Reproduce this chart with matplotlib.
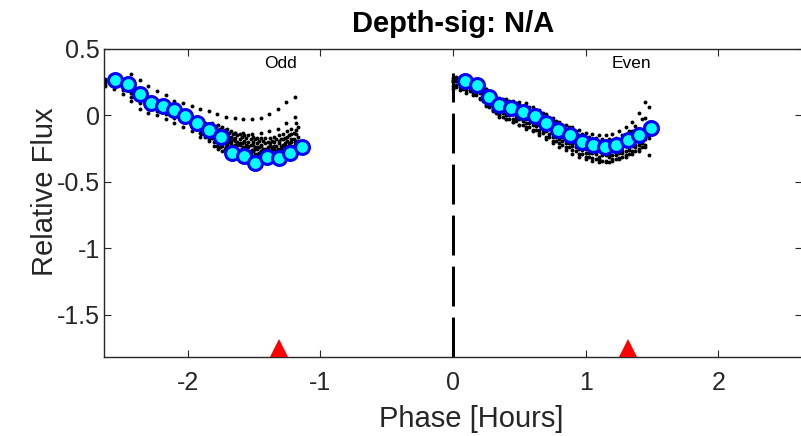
import numpy as np
import matplotlib
matplotlib.use("Agg")
import matplotlib.pyplot as plt

plt.rcParams['font.family'] = ['Liberation Sans', 'DejaVu Sans']
plt.rcParams['axes.unicode_minus'] = False

nan = np.nan

# binned flux (blue/cyan circles)
odd_bin_phase = [-2.546, -2.451, -2.362, -2.274, -2.187, -2.099, -2.016, -1.928, -1.840,
                 -1.752, -1.664, -1.576, -1.491, -1.400, -1.313, -1.225, -1.137]
odd_bin_flux = [0.263, 0.233, 0.163, 0.095, 0.070, 0.038, -0.008, -0.058, -0.108,
                -0.163, -0.283, -0.308, -0.358, -0.313, -0.318, -0.283, -0.238]
even_bin_phase = [0.087, 0.179, 0.268, 0.350, 0.439, 0.526, 0.619, 0.702, 0.790,
                  0.878, 0.971, 1.054, 1.142, 1.230, 1.317, 1.405, 1.489]
even_bin_flux = [0.258, 0.226, 0.138, 0.075, 0.055, 0.025, -0.008, -0.058, -0.108,
                 -0.150, -0.200, -0.220, -0.238, -0.226, -0.183, -0.150, -0.095]

# unbinned odd transits, full phase range
odd_phase_a = [-2.62, -2.555, -2.49, -2.425, -2.36, -2.295, -2.23, -2.165, -2.10, -2.035, -1.97,
               -1.905, -1.84, -1.775, -1.71, -1.645, -1.58, -1.515, -1.45, -1.385, -1.32, -1.255, -1.19]
odd_tracks_a = [
    [0.275, nan, nan, 0.31, 0.27, 0.22, 0.18, 0.15, 0.11, 0.09, 0.07, 0.05, 0.03, 0.01,
     -0.01, -0.02, -0.03, -0.03, -0.02, 0.01, 0.05, 0.10, 0.14],
    [0.25, 0.24, 0.22, 0.17, 0.12, 0.07, 0.05, 0.03, 0.00, -0.03, -0.06, -0.08, -0.10,
     -0.11, -0.12, -0.13, -0.13, -0.14, -0.13, -0.12, -0.10, -0.06, -0.01],
    [0.22, 0.20, 0.16, 0.11, 0.05, 0.02, 0.00, -0.03, -0.06, -0.09, -0.12, -0.16, -0.19,
     -0.23, -0.27, -0.30, -0.32, -0.34, -0.35, -0.33, -0.31, -0.28, -0.24],
    [0.27, 0.27, 0.25, 0.20, 0.16, 0.10, 0.09, 0.06, 0.04, 0.00, -0.04, -0.07, -0.12,
     -0.16, -0.19, -0.22, -0.24, -0.26, -0.27, -0.26, -0.25, -0.23, -0.20],
    [0.24, 0.22, 0.19, 0.14, 0.09, 0.05, 0.03, 0.01, -0.02, -0.05, -0.09, -0.13, -0.16,
     -0.20, -0.24, -0.27, -0.29, -0.31, -0.31, -0.30, -0.28, -0.25, -0.22],
]

# unbinned odd transits, dense part near egress
odd_phase_d = [-1.900, -1.868, -1.835, -1.803, -1.770, -1.738, -1.705, -1.673, -1.640, -1.608, -1.575,
               -1.543, -1.510, -1.478, -1.445, -1.413, -1.380, -1.348, -1.315, -1.283, -1.250, -1.218, -1.185]
odd_tracks_d = [
    [-0.05, -0.06, -0.08, -0.10, -0.11, -0.13, -0.15, -0.16, -0.17, -0.18, -0.19, -0.20,
     -0.20, -0.21, -0.22, -0.21, -0.21, -0.20, -0.19, -0.18, -0.16, -0.14, -0.11],
    [-0.14, -0.16, -0.18, -0.20, -0.21, -0.23, -0.25, -0.26, -0.27, -0.28, -0.29, -0.30,
     -0.31, -0.31, -0.32, -0.32, -0.31, -0.31, -0.30, -0.29, -0.28, -0.26, -0.24],
    [-0.08, -0.12, -0.13, -0.14, -0.17, -0.17, -0.20, -0.21, -0.23, -0.22, -0.25, -0.24,
     -0.26, -0.25, -0.27, -0.26, -0.27, -0.25, -0.26, -0.23, -0.24, -0.20, -0.19],
    [nan, nan, nan, -0.23, -0.25, -0.27, -0.28, -0.30, -0.31, -0.32, -0.33, -0.34,
     -0.35, -0.35, -0.36, -0.35, -0.35, -0.34, -0.33, -0.33, -0.31, -0.30, -0.28],
    [nan, nan, nan, nan, -0.07, -0.09, -0.10, -0.12, -0.13, -0.14, -0.15, -0.15,
     -0.16, -0.17, -0.17, -0.17, -0.17, -0.16, -0.15, -0.14, -0.12, -0.10, -0.06],
    [-0.11, -0.13, -0.16, -0.17, -0.19, -0.20, -0.22, -0.24, -0.24, -0.26, -0.26, -0.28,
     -0.27, -0.29, -0.28, -0.30, -0.29, -0.28, -0.28, -0.26, -0.25, -0.23, -0.21],
    [-0.07, -0.09, -0.10, -0.13, -0.14, -0.16, -0.16, -0.19, -0.19, -0.21, -0.20, -0.23,
     -0.22, -0.24, -0.23, -0.25, -0.23, -0.23, -0.21, -0.22, -0.19, -0.18, -0.14],
]
odd_phase_g = [-1.884, -1.851, -1.819, -1.786, -1.754, -1.721, -1.689, -1.656, -1.624, -1.591, -1.559,
               -1.526, -1.494, -1.461, -1.429, -1.396, -1.364, -1.331, -1.299, -1.266, -1.234, -1.201, -1.169]
odd_tracks_g = [
    [-0.08, -0.08, -0.12, -0.12, -0.15, -0.16, -0.18, -0.18, -0.20, -0.21, -0.22, -0.22,
     -0.24, -0.24, -0.25, -0.24, -0.24, -0.23, -0.23, -0.21, -0.21, -0.18, -0.16],
    [-0.13, -0.15, -0.17, -0.19, -0.21, -0.21, -0.24, -0.25, -0.26, -0.27, -0.28, -0.29,
     -0.29, -0.31, -0.30, -0.31, -0.30, -0.29, -0.29, -0.28, -0.27, -0.25, -0.22],
    [nan, nan, -0.06, -0.08, -0.10, -0.11, -0.13, -0.14, -0.15, -0.16, -0.17, -0.18,
     -0.18, -0.19, -0.19, -0.20, -0.19, -0.18, -0.18, -0.17, -0.15, -0.13, -0.09],
    [nan, nan, nan, nan, -0.24, -0.25, -0.27, -0.28, -0.29, -0.30, -0.31, -0.32,
     -0.33, -0.33, -0.34, -0.33, -0.33, -0.32, -0.32, -0.31, -0.30, -0.28, -0.26],
    [-0.10, -0.13, -0.13, -0.17, -0.17, -0.20, -0.20, -0.23, -0.22, -0.25, -0.24, -0.27,
     -0.25, -0.28, -0.26, -0.28, -0.26, -0.27, -0.25, -0.26, -0.23, -0.23, -0.19],
]

# unbinned even transits
even_phase_e = [0.00, 0.05, 0.10, 0.15, 0.20, 0.25, 0.30, 0.35, 0.40, 0.45, 0.50, 0.55, 0.60, 0.65, 0.70,
                0.75, 0.80, 0.85, 0.90, 0.95, 1.00, 1.05, 1.10, 1.15, 1.20, 1.25, 1.30, 1.35, 1.40, 1.45]
even_phase_f = [0.025, 0.075, 0.125, 0.175, 0.225, 0.275, 0.325, 0.375, 0.425, 0.475, 0.525, 0.575,
                0.625, 0.675, 0.725, 0.775, 0.825, 0.875, 0.925, 0.975, 1.025, 1.075, 1.125, 1.175,
                1.225, 1.275, 1.325, 1.375, 1.425, 1.475]
even_tracks_e = [
    [0.28, nan, nan, nan, nan, 0.20, 0.16, 0.13, 0.12, 0.11, 0.10, 0.09, 0.06, 0.04, 0.01,
     -0.02, -0.05, -0.07, -0.09, -0.11, -0.13, -0.14, -0.15, -0.15, -0.14, -0.12, -0.09, -0.05, 0.02, 0.10],
    [0.20, 0.19, 0.17, 0.15, 0.12, 0.07, 0.03, -0.01, -0.03, -0.05, -0.07, -0.09, -0.11, -0.13, -0.16,
     -0.19, -0.21, -0.24, -0.26, -0.29, -0.31, -0.32, -0.33, -0.34, -0.33, -0.32, -0.30, -0.27, -0.25, -0.22],
    [0.26, 0.27, 0.25, 0.24, 0.21, 0.16, 0.12, 0.09, 0.07, 0.06, 0.05, 0.03, 0.01, -0.01, -0.05,
     -0.07, -0.10, -0.12, -0.15, -0.17, -0.19, -0.20, -0.21, -0.22, -0.21, -0.20, -0.17, -0.14, -0.12, -0.07],
    [0.22, 0.21, 0.19, 0.17, 0.13, 0.08, 0.04, 0.00, -0.03, -0.05, -0.07, -0.10, -0.12, -0.15, -0.18,
     -0.21, -0.24, -0.26, -0.29, -0.31, -0.33, -0.34, -0.35, -0.35, -0.34, -0.33, -0.31, -0.29, -0.27, -0.24],
    [nan, 0.29, 0.29, 0.27, 0.24, 0.20, 0.15, 0.12, 0.10, 0.09, 0.08, 0.06, 0.04, 0.02, -0.02,
     -0.04, -0.07, -0.10, -0.12, -0.15, -0.17, -0.18, -0.19, -0.20, -0.19, -0.18, -0.15, -0.12, -0.10, -0.02],
    [0.25, 0.24, 0.22, 0.20, 0.17, 0.11, 0.07, 0.03, 0.02, 0.01, -0.01, -0.03, -0.05, -0.07, -0.10,
     -0.13, -0.16, -0.18, -0.21, -0.23, -0.25, -0.26, -0.27, -0.28, -0.27, -0.26, -0.23, -0.21, -0.19, -0.16],
    [nan, nan, nan, nan, nan, nan, 0.05, 0.01, 0.00, -0.03, -0.03, -0.06, -0.07, -0.11, -0.12,
     -0.16, -0.18, -0.21, -0.23, -0.25, -0.28, -0.28, -0.31, -0.30, -0.30, -0.28, -0.27, -0.23, -0.22, -0.18],
    [0.27, 0.26, 0.26, 0.23, 0.21, 0.16, 0.14, 0.09, 0.09, 0.06, 0.06, 0.03, 0.03, -0.01, -0.03,
     -0.07, -0.09, -0.12, -0.13, -0.17, -0.18, -0.20, -0.20, -0.22, -0.20, -0.20, -0.16, -0.15, -0.12, -0.09],
]
even_tracks_f = [
    [0.26, 0.25, 0.23, 0.21, 0.17, 0.12, 0.08, 0.06, 0.04, 0.03, 0.01, -0.01, -0.03, -0.06, -0.08,
     -0.11, -0.14, -0.16, -0.19, -0.21, -0.23, -0.24, -0.25, -0.26, -0.25, -0.23, -0.21, -0.19, -0.16, -0.11],
    [0.23, 0.22, 0.20, 0.17, 0.13, 0.08, 0.05, 0.02, 0.00, -0.02, -0.04, -0.06, -0.08, -0.11, -0.14,
     -0.16, -0.19, -0.21, -0.24, -0.26, -0.28, -0.29, -0.30, -0.31, -0.30, -0.28, -0.26, -0.24, -0.21, -0.17],
    [0.29, 0.28, 0.27, 0.25, 0.22, 0.17, 0.14, 0.12, 0.11, 0.09, 0.07, 0.06, 0.04, 0.02, -0.02,
     -0.04, -0.07, -0.09, -0.12, -0.14, -0.16, -0.17, -0.18, -0.18, -0.17, -0.15, -0.12, -0.08, -0.03, 0.06],
    [0.21, 0.20, 0.18, 0.15, 0.11, 0.06, 0.02, -0.01, -0.03, -0.04, -0.07, -0.09, -0.11, -0.13, -0.16,
     -0.19, -0.22, -0.24, -0.27, -0.29, -0.31, -0.33, -0.34, -0.35, -0.33, -0.31, -0.29, -0.27, -0.24, -0.30],
    [0.27, 0.26, 0.24, 0.22, 0.19, 0.14, 0.11, 0.07, 0.07, 0.04, 0.04, 0.01, 0.00, -0.04, -0.05,
     -0.09, -0.11, -0.14, -0.16, -0.19, -0.21, -0.22, -0.23, -0.24, -0.23, -0.22, -0.19, -0.17, -0.14, -0.05],
    [nan, nan, nan, 0.19, 0.16, 0.10, 0.07, 0.03, 0.01, 0.00, -0.02, -0.03, -0.06, -0.08, -0.10,
     -0.14, -0.16, -0.19, -0.21, -0.24, -0.26, -0.27, -0.28, -0.29, -0.28, -0.27, -0.24, -0.22, -0.20, -0.15],
]

transit_marks = [-1.315, 1.315]
xticks = [-2, -1, 0, 1, 2]
yticks = [0.5, 0, -0.5, -1, -1.5]
ytick_labels = ['0.5', '0', '-0.5', '-1', '-1.5']
xlim = (-2.63, 2.63)
ylim = (-1.82, 0.5)

fig = plt.figure(figsize=(8.01, 4.36), dpi=100)
ax = fig.add_axes([104 / 801, 79 / 436, 698 / 801, 308 / 436])

dot_kw = dict(linestyle='none', marker='o', ms=2.8, mew=0, color='k', zorder=2)
for tr in odd_tracks_a:
    ax.plot(odd_phase_a, tr, **dot_kw)
for tr in odd_tracks_d:
    ax.plot(odd_phase_d, tr, **dot_kw)
for tr in odd_tracks_g:
    ax.plot(odd_phase_g, tr, **dot_kw)
for tr in even_tracks_e:
    ax.plot(even_phase_e, tr, **dot_kw)
for tr in even_tracks_f:
    ax.plot(even_phase_f, tr, **dot_kw)

bin_kw = dict(linestyle='none', marker='o', ms=10, mfc=(0, 1, 1), mec=(0, 0, 1), mew=2.2, zorder=3)
ax.plot(odd_bin_phase, odd_bin_flux, **bin_kw)
ax.plot(even_bin_phase, even_bin_flux, **bin_kw)

# transit boundary
ax.plot([0, 0], [ylim[0], 0.32], color='k', lw=2.16, dashes=(13.3, 3.7), zorder=2)

ax.plot(transit_marks, [-1.752, -1.752], linestyle='none', marker='^', ms=13.5,
        color='r', mew=0, zorder=4, clip_on=False)

ax.text(-1.30, 0.39, 'Odd', ha='center', va='center', fontsize=12.5, color='k')
ax.text(1.345, 0.39, 'Even', ha='center', va='center', fontsize=12.5, color='k')

ax.set_xlim(*xlim)
ax.set_ylim(*ylim)
ax.set_xticks(xticks)
ax.set_yticks(yticks)
ax.set_yticklabels(ytick_labels)
ax.tick_params(direction='in', length=5, width=0.8, color='#262626', labelcolor='#262626',
               labelsize=18, top=True, right=True)
ax.tick_params(axis='x', pad=10)
ax.tick_params(axis='y', pad=3)
for s in ax.spines.values():
    s.set_color('#262626')
    s.set_linewidth(1.0)

ax.set_xlabel('Phase [Hours]', fontsize=21, color='#262626', labelpad=7, x=0.526)
ax.set_ylabel('Relative Flux', fontsize=21, color='#262626', labelpad=-2, y=0.536)
ax.set_title('Depth-sig: N/A', fontsize=21, fontweight='bold', color='k', pad=12)

fig.savefig('out.png', dpi=100)
